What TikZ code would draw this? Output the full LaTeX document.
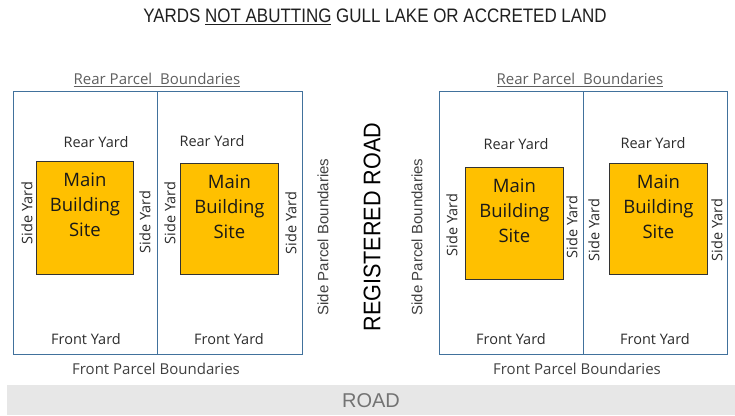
\documentclass[tikz,border=0pt]{standalone}
\usepackage{fontspec}
\setmainfont{Open Sans}
\newfontfamily\arialfont{Liberation Sans}
\newfontfamily\arialnarrow[FakeStretch=0.87]{Liberation Sans}
\newfontfamily\arialroad[FakeStretch=0.9]{Liberation Sans}
\definecolor{parcelblue}{HTML}{41719C}
\definecolor{siteorange}{HTML}{FFC000}
\definecolor{roadgray}{HTML}{E7E7E7}
\definecolor{txtdark}{HTML}{2B2B2B}
\definecolor{txtgray}{HTML}{404040}
\definecolor{txtlight}{HTML}{5F5F5F}
\begin{document}
\begin{tikzpicture}[x=1pt,y=-1pt,
  parcel/.style={draw=parcelblue, line width=1.1pt, inner sep=0pt, anchor=north west},
  site/.style={draw=black!80, fill=siteorange, line width=0.9pt, inner sep=0pt, anchor=north west},
  sitetext/.style={align=center, font=\fontsize{18.5}{25}\selectfont, text=black!90, inner sep=0pt},
  yard/.style={font=\fontsize{14.5}{16}\selectfont, text=txtdark, inner sep=0pt},
  sideyard/.style={yard, rotate=90},
  boundary/.style={font=\fontsize{15}{17}\selectfont, text=txtgray, inner sep=0pt},
  sideboundary/.style={font=\arialfont\fontsize{15}{17}\selectfont, text=txtgray, inner sep=0pt, rotate=90}
]
\useasboundingbox (0,0) rectangle (735,415);

% title
\node[font=\arialnarrow\fontsize{19.5}{22}\selectfont, text=black!88, inner sep=0pt] (title) at (375,17)
  {YARDS \underline{NOT ABUTTING} GULL LAKE OR ACCRETED LAND};

% road bar
\node[fill=roadgray, minimum width=728pt, minimum height=30pt, inner sep=0pt, anchor=north west] (road) at (7,385) {};
\node[font=\arialfont\fontsize{20}{22}\selectfont, text=black!55, inner sep=0pt] (roadtxt) at (371,401) {ROAD};

% parcels left
\node[parcel, minimum width=144pt, minimum height=263pt] (pA) at (13,91) {};
\node[parcel, minimum width=145pt, minimum height=263pt] (pB) at (157,91) {};
% parcels right
\node[parcel, minimum width=144pt, minimum height=263pt] (pC) at (439,91) {};
\node[parcel, minimum width=144pt, minimum height=263pt] (pD) at (583,91) {};

% building sites
\node[site, minimum width=97pt, minimum height=113pt] (sA) at (36,161) {};
\node[site, minimum width=98pt, minimum height=111pt] (sB) at (180,163) {};
\node[site, minimum width=98pt, minimum height=112pt] (sC) at (465,167) {};
\node[site, minimum width=98pt, minimum height=111pt] (sD) at (609,163) {};

\node[sitetext] (tA) at ([yshift=-44pt]sA.north) {Main\\Building\\Site};
\node[sitetext] (tB) at ([yshift=-44pt]sB.north) {Main\\Building\\Site};
\node[sitetext] (tC) at ([yshift=-44pt]sC.north) {Main\\Building\\Site};
\node[sitetext] (tD) at ([yshift=-44pt]sD.north) {Main\\Building\\Site};

% rear yards
\node[yard] (rA) at (96,142) {Rear Yard};
\node[yard] (rB) at (212,141) {Rear Yard};
\node[yard] (rC) at (516,144) {Rear Yard};
\node[yard] (rD) at (653,143) {Rear Yard};

% front yards
\node[yard] (fA) at (86,339) {Front Yard};
\node[yard] (fB) at (229,339) {Front Yard};
\node[yard] (fC) at (511,339) {Front Yard};
\node[yard] (fD) at (655,339) {Front Yard};

% side yards
\node[sideyard] (yA1) at (27,213) {Side Yard};
\node[sideyard] (yA2) at (145,222) {Side Yard};
\node[sideyard] (yB1) at (170,213) {Side Yard};
\node[sideyard] (yB2) at (291,223) {Side Yard};
\node[sideyard] (yC1) at (452,225) {Side Yard};
\node[sideyard] (yC2) at (572,227) {Side Yard};
\node[sideyard] (yD1) at (594,230) {Side Yard};
\node[sideyard] (yD2) at (717,230) {Side Yard};

% boundary labels
\node[boundary, text=txtlight] (rearL) at (157,80) {\underline{Rear Parcel\ \ Boundaries}};
\node[boundary, text=txtlight] (rearR) at (580,80) {\underline{Rear Parcel\ \ Boundaries}};
\node[boundary] (frontL) at (156,369) {Front Parcel Boundaries};
\node[boundary] (frontR) at (577,369) {Front Parcel Boundaries};

\node[sideboundary] (sideL) at (323,237) {Side Parcel Boundaries};
\node[sideboundary] (sideR) at (417,237) {Side Parcel Boundaries};

\node[font=\arialroad\fontsize{24}{26}\selectfont, text=black, inner sep=0pt, rotate=90] (reg) at (372,227) {REGISTERED ROAD};
\end{tikzpicture}
\end{document}
